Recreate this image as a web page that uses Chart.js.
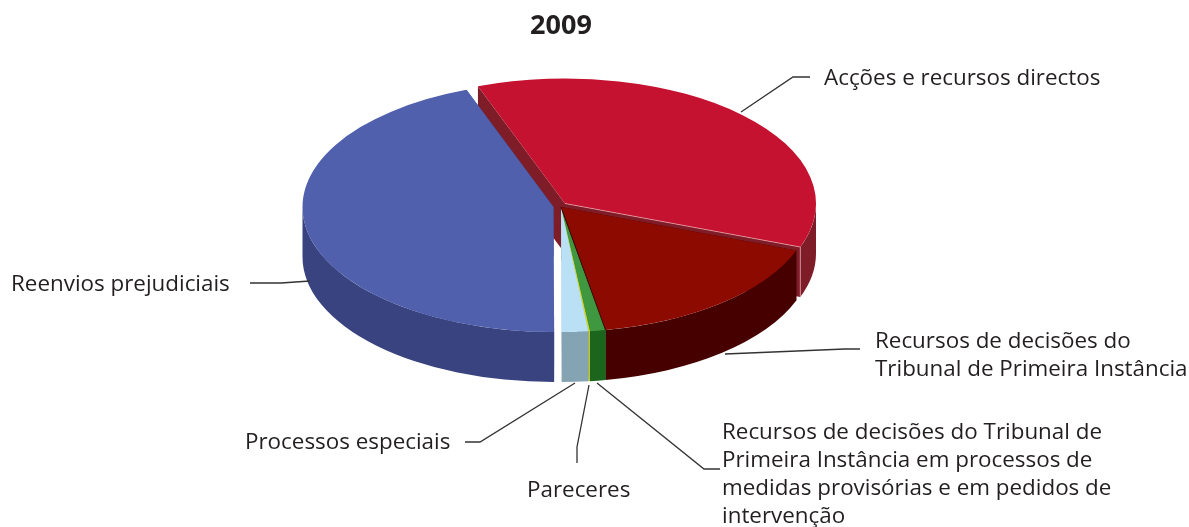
<!DOCTYPE html>
<html lang="pt">
<head>
    <meta charset="UTF-8">
    <title>2009</title>
    <script src="https://cdn.jsdelivr.net/npm/chart.js@4"></script>
    <style>
        html, body { margin: 0; padding: 0; background: #fff; }
        #wrap { width: 1189px; height: 527px; }
    </style>
</head>
<body>
<div id="wrap"><canvas id="pie"></canvas></div>

<script>
    // slices, clockwise from the cut at the top
    const categories = [
        'Acções e recursos directos',
        'Recursos de decisões do Tribunal de Primeira Instância',
        'Recursos de decisões do Tribunal de Primeira Instância em processos de medidas provisórias e em pedidos de intervenção',
        'Pareceres',
        'Processos especiais',
        'Reenvios prejudiciais'
    ];
    const shares = [36.3, 16.5, 1.0, 0.1, 1.7, 44.4];

    const topColors = ['#c41230', '#8c0a00', '#3f983f', '#d2d81e', '#bae0f6', '#5060ad'];
    const sideColors = ['#7e1c28', '#470000', '#1b651d', '#c4ca20', '#84a3b3', '#38437f'];

    // how far each slice is pulled out, in screen pixels
    const explodeX = [4, 0, 0, 0, 0, -7.5];
    const explodeY = [-3.5, 0, 0, 0, 0, 0];

    const RADIUS = 251;
    const SQUASH = 0.498;
    const DEPTH = 50;
    const CENTER_Y = 207;

    const FONT = '"Open Sans", sans-serif';
    const LABEL_SIZE = 22.4;

    const labelBlocks = [
        { x: 824, y: 85, lines: ['Acções e recursos directos'] },
        { x: 11, y: 291, lines: ['Reenvios prejudiciais'] },
        { x: 875, y: 348, lines: ['Recursos de decisões do', 'Tribunal de Primeira Instância'] },
        { x: 245, y: 449, lines: ['Processos especiais'] },
        { x: 527, y: 497, lines: ['Pareceres'] },
        { x: 722, y: 439, lines: ['Recursos de decisões do Tribunal de', 'Primeira Instância em processos de', 'medidas provisórias e em pedidos de', 'intervenção'] }
    ];
    const leaders = [
        [[741, 112], [793, 77], [810, 77]],
        [[250, 283], [281, 283], [310, 281]],
        [[725, 354], [845, 349], [860, 349]],
        [[465, 442], [480, 442], [575, 383]],
        [[577, 463], [577, 447], [589, 385]],
        [[597, 383], [704, 469], [720, 469]]
    ];

    function sliceCenter(arc, i) {
        return { x: arc.x + explodeX[i], y: CENTER_Y + explodeY[i] };
    }

    function rimPoint(c, a) {
        return [c.x + Math.cos(a) * RADIUS, c.y + Math.sin(a) * RADIUS * SQUASH];
    }

    function drawSides(ctx, arc, i) {
        const c = sliceCenter(arc, i);
        const ry = RADIUS * SQUASH;
        ctx.fillStyle = sideColors[i];

        // the two cut faces
        [arc.startAngle, arc.endAngle].forEach(a => {
            const p = rimPoint(c, a);
            ctx.beginPath();
            ctx.moveTo(c.x, c.y);
            ctx.lineTo(p[0], p[1]);
            ctx.lineTo(p[0], p[1] + DEPTH);
            ctx.lineTo(c.x, c.y + DEPTH);
            ctx.closePath();
            ctx.fill();
        });

        // the outer wall, only the front half of the rim shows
        const a0 = Math.max(arc.startAngle, 0);
        const a1 = Math.min(arc.endAngle, Math.PI);
        if (a1 > a0) {
            ctx.beginPath();
            ctx.ellipse(c.x, c.y, RADIUS, ry, 0, a0, a1);
            ctx.ellipse(c.x, c.y + DEPTH, RADIUS, ry, 0, a1, a0, true);
            ctx.closePath();
            ctx.fill();
        }
    }

    function drawTop(ctx, arc, i) {
        const c = sliceCenter(arc, i);
        ctx.save();
        ctx.translate(c.x - arc.x, c.y);
        ctx.scale(1, SQUASH);
        ctx.translate(0, -arc.y);
        arc.draw(ctx);
        ctx.restore();
    }

    const pie3d = {
        id: 'pie3d',
        beforeDatasetDraw(chart, args) {
            const ctx = chart.ctx;
            const arcs = args.meta.data;
            arcs.forEach((arc, i) => drawSides(ctx, arc, i));
            arcs.forEach((arc, i) => drawTop(ctx, arc, i));

            // pale edge where the red slice ends
            const c = sliceCenter(arcs[0], 0);
            const e = rimPoint(c, arcs[0].endAngle);
            ctx.strokeStyle = 'rgba(240,170,175,0.7)';
            ctx.lineWidth = 1;
            ctx.beginPath();
            ctx.moveTo(c.x, c.y);
            ctx.lineTo(e[0], e[1]);
            ctx.lineTo(e[0], e[1] + DEPTH);
            ctx.stroke();

            // dark seam between the dark red slice and the green one
            const c2 = sliceCenter(arcs[1], 1);
            const s = rimPoint(c2, arcs[1].endAngle);
            ctx.strokeStyle = '#3a0000';
            ctx.beginPath();
            ctx.moveTo(c2.x, c2.y);
            ctx.lineTo(s[0], s[1]);
            ctx.stroke();
            return false;
        },
        afterDraw(chart) {
            const ctx = chart.ctx;
            ctx.save();
            ctx.strokeStyle = '#333';
            ctx.lineWidth = 1.3;
            leaders.forEach(pts => {
                ctx.beginPath();
                pts.forEach((p, k) => k ? ctx.lineTo(p[0], p[1]) : ctx.moveTo(p[0], p[1]));
                ctx.stroke();
            });
            ctx.fillStyle = '#231f20';
            ctx.font = LABEL_SIZE + 'px ' + FONT;
            ctx.textBaseline = 'alphabetic';
            labelBlocks.forEach(b => {
                b.lines.forEach((t, k) => ctx.fillText(t, b.x, b.y + k * 28));
            });
            ctx.restore();
        }
    };

    new Chart(document.getElementById('pie'), {
        type: 'pie',
        plugins: [pie3d],
        data: {
            labels: categories,
            datasets: [{
                data: shares,
                backgroundColor: topColors,
                borderWidth: 0,
                hoverOffset: 0
            }]
        },
        options: {
            responsive: true,
            maintainAspectRatio: false,
            animation: false,
            rotation: -20.3,
            radius: RADIUS,
            layout: { padding: { right: 67 } },
            plugins: {
                legend: { display: false },
                tooltip: { enabled: false },
                title: {
                    display: true,
                    text: '2009',
                    color: '#231f20',
                    font: { family: FONT, size: 27, weight: 'bold' },
                    padding: { top: 10, bottom: 8 }
                }
            }
        }
    });
</script>
</body>
</html>
